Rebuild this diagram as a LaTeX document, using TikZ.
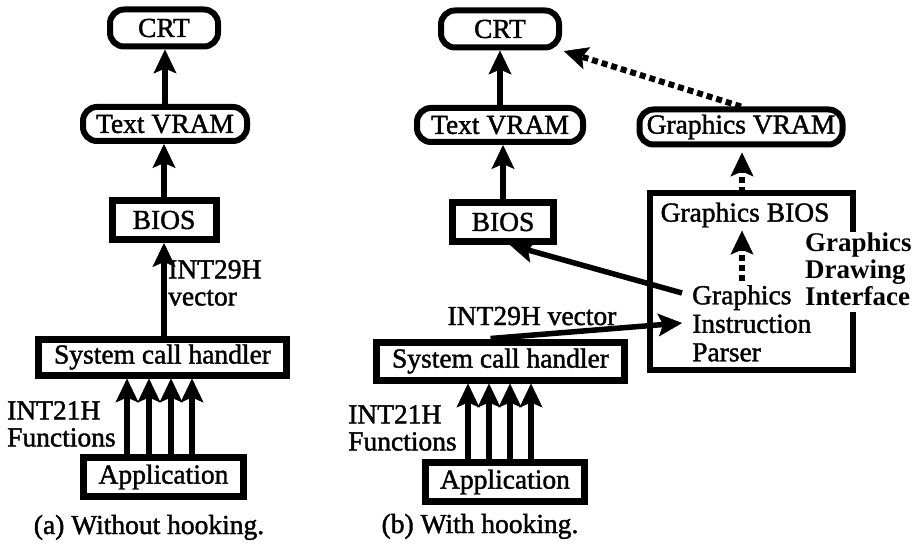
\documentclass[tikz,border=0pt]{standalone}
\usepackage{fontspec}
\setmainfont{Liberation Serif}[UprightFeatures={FakeBold=1.5}]
\usetikzlibrary{arrows.meta,calc}
\begin{document}
\begin{tikzpicture}[x=1pt,y=-1pt,
  every node/.style={font=\fontsize{27.5}{29}\selectfont, inner sep=0pt},
  rbox/.style={draw, line width=6pt, rounded corners=14pt},
  sbox/.style={draw, line width=7pt},
  twoline/.style={align=left, anchor=north west, font=\fontsize{27.5}{27}\selectfont},
  boldlbl/.style={align=left, anchor=north west, font=\fontsize{27}{27}\selectfont\bfseries},
  arr/.style={line width=5.5pt, -{Stealth[length=24pt,width=23pt,inset=5pt,line width=0.5pt]}},
  darr/.style={arr, line width=6pt, dash pattern=on 6pt off 4pt},
  frame/.style={line width=6.5pt},
]
\useasboundingbox (0,0) rectangle (917,545);

% ---------- (a) without hooking ----------
\node[rbox, minimum width=108, minimum height=37] (crtA) at (164,28) {CRT};
\node[rbox, minimum width=164, minimum height=34] (tvA) at (165,124) {Text VRAM};
\node[sbox, minimum width=104, minimum height=39] (biosA) at (164,220) {BIOS};
\node[sbox, minimum width=248, minimum height=36] (schA) at (162.5,357) {System call handler};
\node[sbox, minimum width=160, minimum height=39] (appA) at (163.5,477) {Application};

\draw[arr] (tvA.north) -- (tvA.north |- crtA.south);
\draw[arr] (biosA.north) -- (biosA.north |- tvA.south);
\draw[arr] (schA.north -| biosA) -- (biosA.south);
\node[twoline] (int29A) at (168,260) {INT29H\\vector};

\foreach \dx in {-36.5,-14.5,7.5,28.5}
  \draw[arr] ([shift={(\dx,0)}]appA.north) -- ([shift={(\dx,0)}]appA.north |- schA.south);
\node[twoline] (int21A) at (7,401) {INT21H\\Functions};

\node[anchor=base] (capA) at (149,534) {(a) Without hooking.};

% ---------- (b) with hooking ----------
\node[rbox, minimum width=118, minimum height=37] (crtB) at (500,29) {CRT};
\node[rbox, minimum width=166, minimum height=34] (tvB) at (500,125) {Text VRAM};
\node[sbox, minimum width=101, minimum height=39] (biosB) at (503,222) {BIOS};
\node[rbox, minimum width=203, minimum height=35] (gvB) at (741,127) {Graphics VRAM};
\node[sbox, minimum width=248, minimum height=38] (schB) at (500.5,361) {System call handler};
\node[sbox, minimum width=159, minimum height=39] (appB) at (505,482) {Application};

\draw[arr] (tvB.north) -- (tvB.north |- crtB.south);
\draw[arr] (biosB.north) -- (biosB.north |- tvB.south);

% graphics drawing interface frame, open on the right where its title sits
\coordinate (gdiNW) at (650,193);
\coordinate (gdiSE) at (853,370);
\coordinate (gdiTop) at (742,193);
\draw[frame] (853,232) -- (gdiNW -| gdiSE) -- (gdiNW) -- (gdiNW |- gdiSE) -- (gdiSE) -- (853,312);
\node (gbios) at (745,215) {Graphics BIOS};
\node[twoline, font=\fontsize{27.5}{28.5}\selectfont] (gip) at (692,285) {Graphics\\Instruction\\Parser};
\node[boldlbl] (gdi) at (805,233) {Graphics\\Drawing\\Interface};

\draw[darr, shorten >=5pt] (gdiTop) -- (gdiTop |- gvB.south);
\draw[darr, shorten <=4pt, shorten >=3pt] (gip.north -| gdiTop) -- (gbios.south -| gdiTop);
\draw[darr, shorten >=2pt] (gvB.north) -- (crtB.south east);

\draw[arr] ([shift={(-10,8)}]gip.north west) -- ([shift={(7,0)}]biosB.south);
\draw[arr] ([shift={(-10,0)}]schB.north) -- ([shift={(-10,38)}]gip.north west);
\node[anchor=base] (int29B) at (532,325) {INT29H vector};

\foreach \dx in {-37,-16,5,26}
  \draw[arr] ([shift={(\dx,0)}]appB.north) -- ([shift={(\dx,0)}]appB.north |- schB.south);
\node[twoline] (int21B) at (348,405) {INT21H\\Functions};

\node[anchor=base] (capB) at (480,533) {(b) With hooking.};
\end{tikzpicture}
\end{document}
